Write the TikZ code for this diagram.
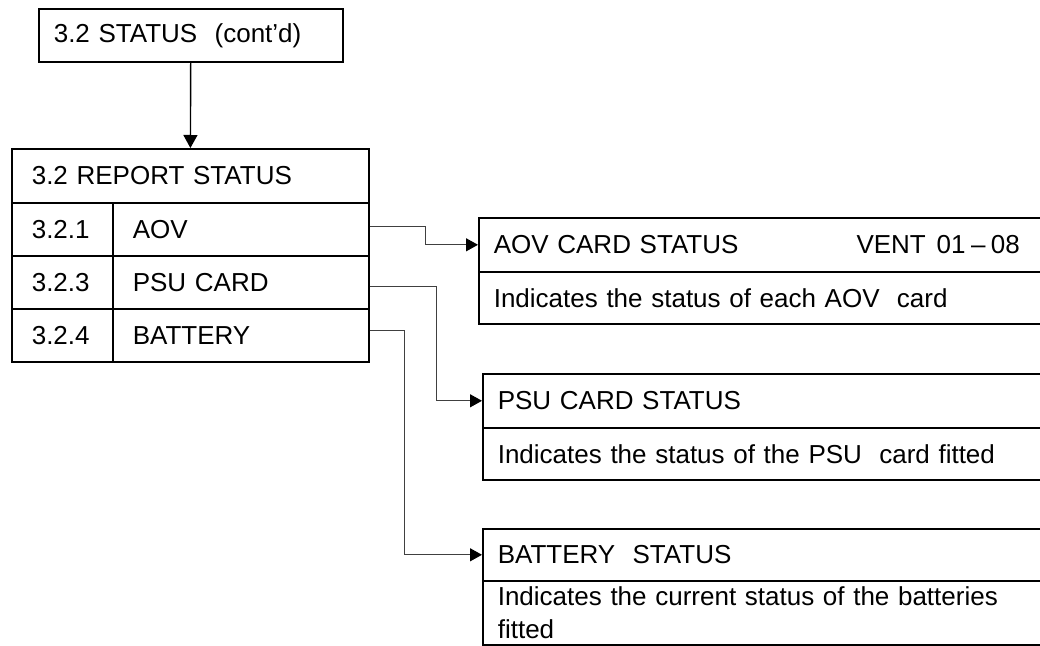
\documentclass[tikz,border=0pt]{standalone}
\usepackage{fontspec}
\setmainfont{Liberation Sans}[WordSpace=0.75]
\usepackage{tikz}
\usetikzlibrary{arrows.meta}

\begin{document}
\begin{tikzpicture}[x=1pt, y=-1pt,
  font=\fontsize{26pt}{33pt}\selectfont,
  cell/.style={draw, line width=1.6pt, anchor=north west, inner xsep=20pt, inner ysep=0pt, minimum height=53pt, align=left},
  info/.style={cell, inner xsep=15pt, text width=552pt, minimum height=52pt},
  arr/.style={-{Triangle[length=13pt, width=14pt]}, line width=1.4pt},
  conn/.style={-{Triangle[length=12pt, width=13pt, color=black]}, line width=1.1pt, draw=black!75}
]
  \useasboundingbox (0,0) rectangle (1040,645);

  % left side
  \node[cell, inner xsep=15pt, text width=274pt] (status) at (38,8) {3.2 STATUS\ \ (cont’d)};
  \node[cell, text width=317pt, minimum height=54pt] (report) at (11,148) {3.2 REPORT STATUS};
  \node[cell, text width=61pt] (naov) at (11,202) {3.2.1};
  \node[cell, text width=216pt] (raov) at (112,202) {AOV};
  \node[cell, text width=61pt] (npsu) at (11,255) {3.2.3};
  \node[cell, text width=216pt] (rpsu) at (112,255) {PSU CARD};
  \node[cell, text width=61pt] (nbat) at (11,308) {3.2.4};
  \node[cell, text width=216pt] (rbat) at (112,308) {BATTERY};

  % right side
  \node[info, minimum height=54pt] (taov) at (478,217) {AOV CARD STATUS};
  \node[anchor=base east, inner sep=0pt] (vent) at (1020,253) {VENT\ \ 01 \textendash{} 08};
  \node[info] (daov) at (478,271) {Indicates the status of each AOV\ \ card};
  \node[info, minimum height=54pt] (tpsu) at (482,373) {PSU CARD STATUS};
  \node[info] (dpsu) at (482,427) {Indicates the status of the PSU\ \ card fitted};
  \node[info] (tbat) at (482,528) {BATTERY\ \ STATUS};
  \node[info, minimum height=64pt] (dbat) at (482,580) {Indicates the current status of the batteries\\fitted};

  \draw[arr] (status) -- (report);
  \draw[conn] ([yshift=3pt]raov.east) -- ++(56,0) |- (taov.west);
  \draw[conn] ([yshift=-4pt]rpsu.east) -- ++(67,0) |- (tpsu.west);
  \draw[conn] ([yshift=5pt]rbat.east) -- ++(35,0) |- (tbat.west);
\end{tikzpicture}
\end{document}
